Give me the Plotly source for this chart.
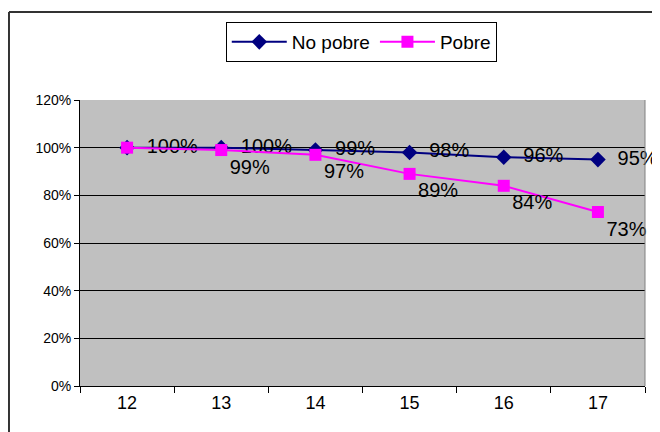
import plotly.graph_objects as go

categories = ["12", "13", "14", "15", "16", "17"]
no_pobre = [1.00, 1.00, 0.99, 0.98, 0.96, 0.95]
pobre = [1.00, 0.99, 0.97, 0.89, 0.84, 0.73]
y_ticks = [0, 0.2, 0.4, 0.6, 0.8, 1.0, 1.2]

def pct(vals):
    return [f"{round(v*100)}%" for v in vals]

# The first Pobre label sits hidden under the No pobre one in the reference
pobre_text = pct(pobre)
pobre_text[0] = ""

W, H = 652, 424  # page body adds an 8px offset in the browser

fig = go.Figure()
fig.add_trace(go.Scatter(
    x=categories, y=no_pobre, name="No pobre", mode="lines+markers+text",
    line=dict(color="#000080", width=2),
    marker=dict(symbol="diamond", size=12, color="#000080"),
    text=pct(no_pobre), texttemplate="\u00a0\u00a0%{text}",
    textposition="middle right",
    textfont=dict(family="Arial, Liberation Sans", size=20, color="black"),
    cliponaxis=False,
))
fig.add_trace(go.Scatter(
    x=categories, y=pobre, name="Pobre", mode="lines+markers+text",
    line=dict(color="#FF00FF", width=2),
    marker=dict(symbol="square", size=12, color="#FF00FF"),
    text=pobre_text, textposition="bottom right",
    textfont=dict(family="Arial, Liberation Sans", size=20, color="black"),
    cliponaxis=False,
))

fig.update_layout(
    width=W, height=H,
    margin=dict(l=72, r=15, t=92, b=46, autoexpand=False),
    paper_bgcolor="white", plot_bgcolor="#C0C0C0",
    font=dict(family="Arial, Liberation Sans", color="black"),
    showlegend=True,
    legend=dict(
        orientation="h", xref="container", yref="container",
        x=0.334, y=0.967, xanchor="left", yanchor="top",
        bordercolor="black", borderwidth=1, bgcolor="white",
        font=dict(size=19), itemwidth=55,
    ),
    xaxis=dict(
        type="category", range=[-0.5, len(categories) - 0.5],
        tickson="boundaries", ticks="outside", ticklen=6,
        tickcolor="black", showline=True, linecolor="black", linewidth=1,
        showgrid=False, tickfont=dict(size=18), mirror=False,
    ),
    yaxis=dict(
        range=[0, 1.2], tickvals=y_ticks, tickformat=".0%", ticks="outside",
        ticklen=5, tickcolor="black", showline=True, linecolor="black",
        linewidth=1, showgrid=True, gridcolor="black", gridwidth=1,
        zeroline=False, tickfont=dict(size=14),
    ),
    shapes=[
        dict(type="line", xref="paper", yref="paper", x0=1, x1=1, y0=0, y1=1,
             line=dict(color="#808080", width=1)),
        dict(type="line", xref="paper", yref="paper", x0=-0.1257, x1=1.2, y0=1.3077, y1=1.3077,
             line=dict(color="#333333", width=2)),
        dict(type="line", xref="paper", yref="paper", x0=-0.1257, x1=-0.1257, y0=-0.3, y1=1.3077,
             line=dict(color="#333333", width=2)),
    ],
)

fig.write_html("out.html")
